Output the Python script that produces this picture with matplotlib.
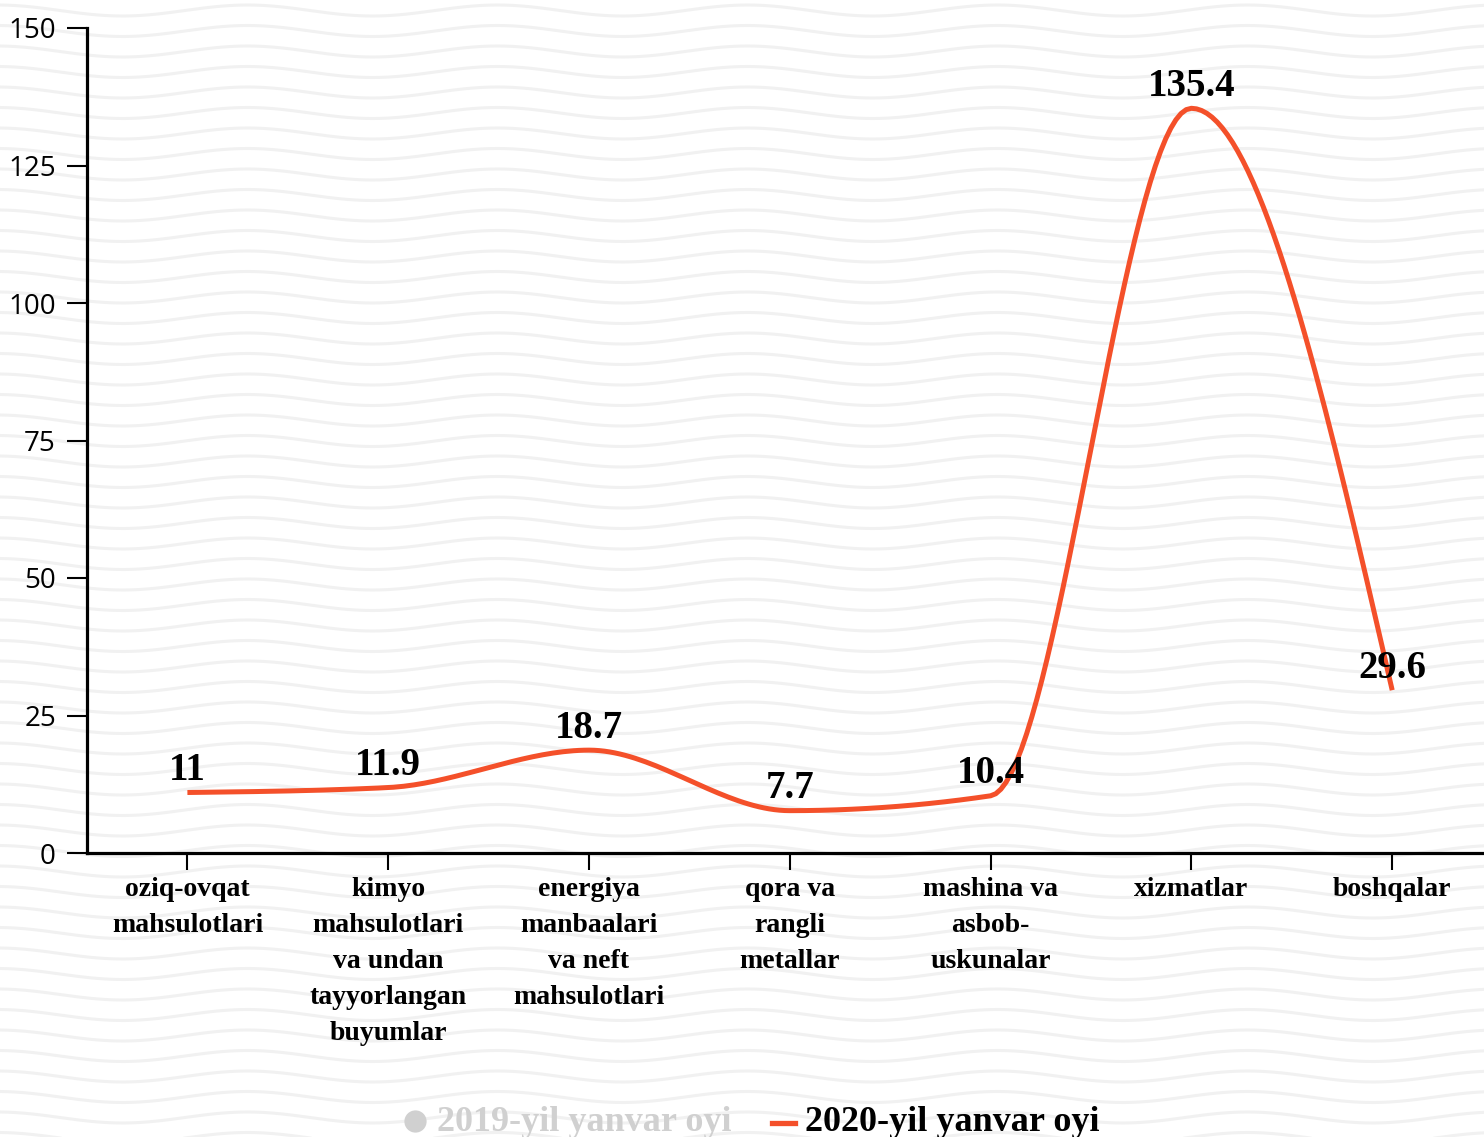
import numpy as np
import matplotlib
matplotlib.use("Agg")
import matplotlib.pyplot as plt
from matplotlib.lines import Line2D

# Data
categories = [
    "oziq-ovqat\nmahsulotlari",
    "kimyo\nmahsulotlari\nva undan\ntayyorlangan\nbuyumlar",
    "energiya\nmanbaalari\nva neft\nmahsulotlari",
    "qora va\nrangli\nmetallar",
    "mashina va\nasbob-\nuskunalar",
    "xizmatlar",
    "boshqalar",
]
values_2020 = [11, 11.9, 18.7, 7.7, 10.4, 135.4, 29.6]
value_labels = ["11", "11.9", "18.7", "7.7", "10.4", "135.4", "29.6"]
y_ticks = [0, 25, 50, 75, 100, 125, 150]
legend_labels = ["2019-yil yanvar oyi", "2020-yil yanvar oyi"]

ORANGE = "#f4502a"
SERIF = ["Liberation Serif", "DejaVu Serif"]


def monotone_x(x, y, n=40):
    # same curve shape as d3.curveMonotoneX
    x = np.asarray(x, float)
    y = np.asarray(y, float)
    m = len(x)
    t = np.zeros(m)
    for i in range(1, m - 1):
        h0, h1 = x[i] - x[i - 1], x[i + 1] - x[i]
        s0, s1 = (y[i] - y[i - 1]) / h0, (y[i + 1] - y[i]) / h1
        p = (s0 * h1 + s1 * h0) / (h0 + h1)
        t[i] = (np.sign(s0) + np.sign(s1)) * min(abs(s0), abs(s1), 0.5 * abs(p))
    h = x[1] - x[0]
    t[0] = (3 * (y[1] - y[0]) / h - t[1]) / 2
    h = x[-1] - x[-2]
    t[-1] = (3 * (y[-1] - y[-2]) / h - t[-2]) / 2
    xs, ys = [], []
    u = np.linspace(0, 1, n)
    for i in range(m - 1):
        dx = (x[i + 1] - x[i]) / 3
        p0 = (x[i], y[i])
        p1 = (x[i] + dx, y[i] + dx * t[i])
        p2 = (x[i + 1] - dx, y[i + 1] - dx * t[i + 1])
        p3 = (x[i + 1], y[i + 1])
        b = [(1 - u) ** 3, 3 * (1 - u) ** 2 * u, 3 * (1 - u) * u ** 2, u ** 3]
        xs.append(sum(bb * pp[0] for bb, pp in zip(b, (p0, p1, p2, p3))))
        ys.append(sum(bb * pp[1] for bb, pp in zip(b, (p0, p1, p2, p3))))
    return np.concatenate(xs), np.concatenate(ys)


W, H = 1484, 1137
fig = plt.figure(figsize=(W / 100, H / 100), dpi=100)
fig.patch.set_facecolor("white")

# wavy background texture
bg = fig.add_axes([0, 0, 1, 1], zorder=0)
bg.set_xlim(0, W)
bg.set_ylim(H, 0)
bg.axis("off")
xx = np.linspace(0, W, 800)
for y0 in np.arange(-10, H + 20, 20.5):
    bg.plot(xx, y0 + 5.5 * np.sin(2 * np.pi * (xx - 60) / 250), color="#f1f1f1", lw=2.2)

ax = fig.add_axes([87 / W, (H - 853) / H, 1405.6 / W, 825 / H], zorder=1)
ax.patch.set_alpha(0)

xi = np.arange(len(categories))
cx, cy = monotone_x(xi, values_2020)
ax.plot(cx, cy, color=ORANGE, lw=3.6, solid_capstyle="butt", zorder=2)

for x, v, lab in zip(xi, values_2020, value_labels):
    ax.annotate(lab, (x, v), xytext=(0, 9), textcoords="offset points",
                ha="center", va="baseline", fontsize=28, fontweight="bold",
                family=SERIF, color="black", zorder=3)

ax.set_xlim(-0.5, len(categories) - 0.5)
ax.set_ylim(0, 150)
ax.set_yticks(y_ticks)
ax.set_yticklabels([str(t) for t in y_ticks], family=["Open Sans", "DejaVu Sans"], fontsize=20)
ax.set_xticks(xi)
ax.set_xticklabels(categories, family=SERIF, fontsize=20, fontweight="bold",
                   linespacing=1.58, va="top")
ax.tick_params(axis="y", length=14.4, width=1.5, pad=8, colors="black")
ax.tick_params(axis="x", length=12, width=1.5, pad=5.5, colors="black")

for s in ["top", "right"]:
    ax.spines[s].set_visible(False)
for s in ["left", "bottom"]:
    ax.spines[s].set_linewidth(2.3)
    ax.spines[s].set_color("black")

# legend
ly = (H - 1131) / H
fig.add_artist(Line2D([415 / W], [(H - 1121) / H], marker="o", markersize=15,
                      color="#d0d0d0", transform=fig.transFigure, lw=0))
fig.text(437 / W, ly, legend_labels[0], family=SERIF, fontsize=26,
         fontweight="bold", color="#d0d0d0", va="baseline", ha="left")
fig.add_artist(Line2D([772 / W, 795 / W], [(H - 1123) / H] * 2, color=ORANGE,
                      lw=3.8, transform=fig.transFigure))
fig.text(805 / W, ly, legend_labels[1], family=SERIF, fontsize=26,
         fontweight="bold", color="black", va="baseline", ha="left")

fig.savefig("out.png", dpi=100)
